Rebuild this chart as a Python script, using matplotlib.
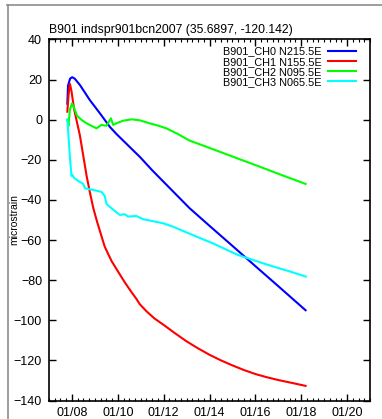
import numpy as np
import pandas as pd
import matplotlib
matplotlib.use("Agg")
import matplotlib.pyplot as plt
import matplotlib.dates as mdates
from matplotlib.lines import Line2D

plt.rcParams['font.family'] = ['Liberation Sans', 'DejaVu Sans']

title = "B901 indspr901bcn2007 (35.6897, -120.142)"
labels = ["B901_CH0 N215.5E", "B901_CH1 N155.5E",
          "B901_CH2 N095.5E", "B901_CH3 N065.5E"]
colors = ["#0000ff", "#ff0000", "#00ff00", "#00ffff"]

# day of month (January 2007), strain in microstrain
ch0_day = [7.80, 7.83, 7.92, 8.01, 8.12, 8.35, 8.78, 9.22, 9.65, 9.94,
           10.52, 10.96, 11.50, 12.50, 13.13, 14.00, 15.00, 16.00, 17.00, 18.19]
ch0_val = [8, 17, 20.5, 21.2, 20.5, 17.3, 9.8, 3.2, -3.5, -7.1,
           -13.6, -18.5, -25.2, -36.8, -44.1, -52.9, -62.9, -73.0, -83.0, -95.0]

ch1_day = [7.80, 7.85, 7.91, 7.97, 8.10, 8.35, 8.64, 8.78, 8.93, 9.10,
           9.43, 9.73, 10.00, 10.30, 10.60, 10.81, 10.96, 11.25, 11.60, 12.00,
           12.50, 13.00, 13.50, 14.00, 14.50, 15.00, 15.50, 16.00, 16.50, 17.00,
           17.50, 18.19]
ch1_val = [4, 12, 17.9, 15, 5, -8, -28, -36, -44, -51,
           -63.3, -70.5, -75.5, -81, -86, -89.3, -92, -95.5, -99.1, -102.3,
           -106.5, -110.5, -114, -117.2, -120, -122.5, -124.8, -126.8, -128.4, -129.8,
           -131, -132.7]

ch2_day = [7.80, 7.85, 7.91, 8.00, 8.09, 8.22, 8.42, 8.64, 9.07, 9.29,
           9.51, 9.61, 9.70, 9.80, 10.00, 10.23, 10.60, 10.96, 11.39, 11.75,
           12.12, 12.60, 13.13, 13.80, 14.50, 15.20, 16.00, 16.60, 17.20, 18.19]
ch2_val = [0, -3, 5, 8.2, 6, 2, -0.1, -1.8, -4.3, -2.6,
           -3, -1, 0.7, -2.6, -1.5, -0.5, 0.2, -0.3, -1.8, -2.9,
           -4.3, -7.0, -10.4, -13.2, -16.2, -19.2, -22.6, -25.2, -27.8, -32.0]

ch3_day = [7.80, 7.85, 7.91, 7.98, 8.02, 8.09, 8.27, 8.49, 8.57, 8.93,
           9.29, 9.43, 9.51, 9.73, 10.09, 10.30, 10.45, 10.81, 11.10, 11.50,
           11.97, 12.40, 13.27, 14.14, 15.23, 16.50, 17.40, 18.20]
ch3_val = [0, -8, -18.4, -28, -27.5, -29, -30.5, -32, -34.2, -35,
           -36, -38, -42, -44.2, -47.5, -47.1, -48.3, -48, -49.6, -50.5,
           -51.6, -53.3, -57.5, -61.6, -67.4, -72.2, -75.3, -78.2]

series = [(ch0_day, ch0_val), (ch1_day, ch1_val),
          (ch2_day, ch2_val), (ch3_day, ch3_val)]

jan1 = pd.Timestamp("2007-01-01")


def to_dates(days):
    return jan1 + pd.to_timedelta(np.asarray(days) - 1, unit="D")


W, H = 382, 419
fig = plt.figure(figsize=(W / 100, H / 100), dpi=100)

# outer grey frame
fig.add_artist(Line2D([7 / W, 1], [1 - 5.5 / H, 1 - 5.5 / H],
                      color="#8c8c8c", lw=1.2, transform=fig.transFigure))
fig.add_artist(Line2D([7.5 / W, 7.5 / W], [0, 1 - 5.5 / H],
                      color="#8c8c8c", lw=1.2, transform=fig.transFigure))

ax = fig.add_axes([49 / W, (H - 400.5) / H, 321 / W, 361 / H])

for (d, v), lab, c in zip(series, labels, colors):
    ax.plot(to_dates(d), v, color=c, lw=1.5, label=lab)

ax.set_xlim(pd.Timestamp("2007-01-07"), pd.Timestamp("2007-01-21"))
ax.set_ylim(-140, 40)
ax.set_yticks(np.arange(-140, 41, 20))
ax.xaxis.set_major_locator(mdates.DayLocator(bymonthday=range(8, 21, 2)))
ax.xaxis.set_minor_locator(mdates.HourLocator(byhour=[0, 6, 12, 18]))
ax.xaxis.set_major_formatter(mdates.DateFormatter("%m/%d"))

for s in ax.spines.values():
    s.set_linewidth(1.2)
ax.tick_params(which="both", direction="in", top=True, right=True,
               labelsize=9, colors="black", pad=5)
ax.tick_params(which="major", length=5, width=1)
ax.tick_params(which="minor", length=2.5, width=0.8)

fig.text(14 / W, 1 - 220 / H, "microstrain", rotation=90,
         ha="center", va="center", fontsize=7.5)
ax.set_title(title, loc="left", fontsize=8.8, pad=5)

ax.legend(loc="upper right", frameon=False, markerfirst=False,
          fontsize=7.8, handlelength=2.6, handletextpad=0.6,
          labelspacing=0.02, borderaxespad=0.3, borderpad=0.35,
          bbox_to_anchor=(1 - 7 / 321, 1))

fig.savefig("out.png", dpi=100)
